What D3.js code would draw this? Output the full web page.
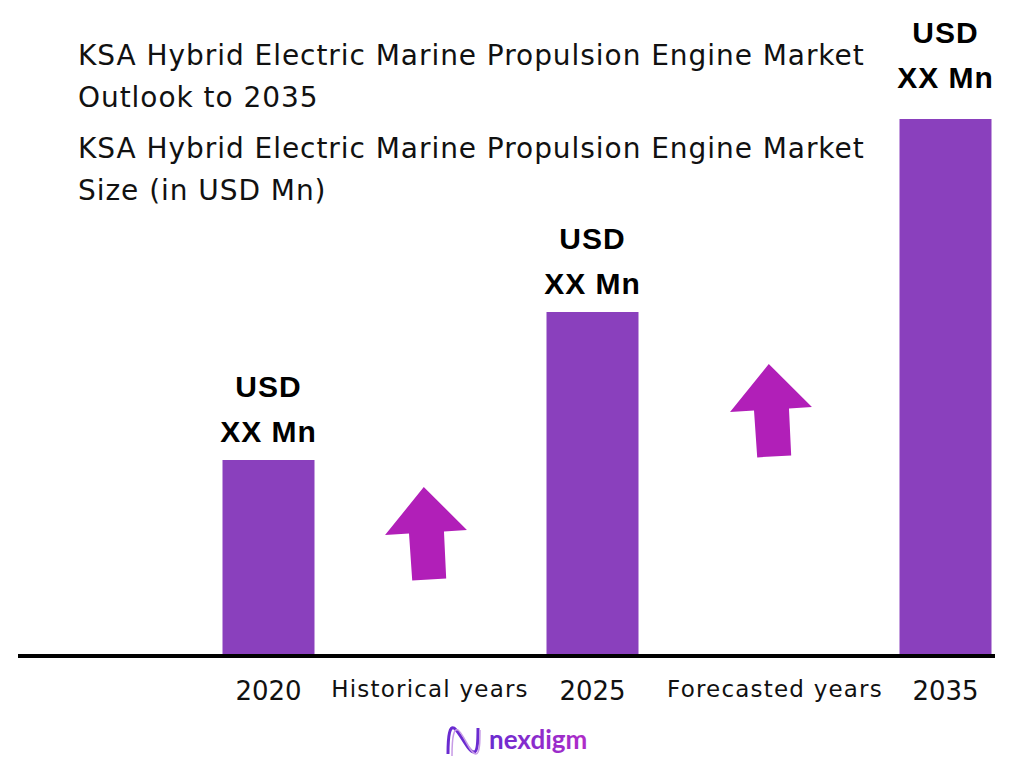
<!DOCTYPE html>
<html>
<head>
<meta charset="utf-8">
<script src="https://cdn.jsdelivr.net/npm/d3@7"></script>
<style>
  body { margin: 0; background: #fff; }
  svg { display: block; }
</style>
</head>
<body>
<script>
// data
const categories = ["2020", "Historical years", "2025", "Forecasted years", "2035"];
const years = ["2020", "2025", "2035"];
const barValues = [196, 344, 537];   // relative size
const barLabelTop = "USD";
const barLabelBottom = "XX Mn";
const gapLabels = ["Historical years", "Forecasted years"];
const titleLines = ["KSA Hybrid Electric Marine Propulsion Engine Market", "Outlook to 2035"];
const subtitleLines = ["KSA Hybrid Electric Marine Propulsion Engine Market", "Size (in USD Mn)"];

const WIDTH = 1024, HEIGHT = 768;
const barColor = "#8a40bd";
const arrowColor = "#b11fb8";

const svg = d3.select("body").append("svg")
  .attr("width", WIDTH).attr("height", HEIGHT);

// scales
const x = d3.scaleOrdinal()
  .domain(categories)
  .range([268.5, 430, 592.5, 775, 945.5]);
const y = d3.scaleLinear()
  .domain([0, d3.max(barValues)])
  .range([656, 119]);
const barW = 92;

// titles
svg.selectAll("text.title")
  .data(titleLines.concat(subtitleLines))
  .enter().append("text")
  .attr("class", "title")
  .attr("x", 78)
  .attr("y", (d, i) => [65, 107, 158, 200][i])
  .attr("font-family", "DejaVu Sans")
  .attr("font-size", 28)
  .attr("letter-spacing", 0.95)
  .attr("fill", "#111")
  .text(d => d);

// bars
svg.selectAll("rect.bar")
  .data(barValues)
  .enter().append("rect")
  .attr("class", "bar")
  .attr("x", (d, i) => x(years[i]) - barW / 2)
  .attr("y", d => y(d))
  .attr("width", barW)
  .attr("height", d => y(0) - y(d) + 2)
  .attr("fill", barColor);

// bar labels (the tallest one is pushed up to fit above its bar)
const lab = svg.selectAll("g.lab")
  .data(barValues)
  .enter().append("g")
  .attr("class", "lab")
  .attr("transform", (d, i) => {
    const by = y(d) - 18 - (y(d) < 150 ? 13 : 0);
    return `translate(${x(years[i])},${by})`;
  });
lab.append("text")
  .attr("y", -45)
  .attr("text-anchor", "middle")
  .attr("font-family", "Liberation Sans")
  .attr("font-weight", "bold")
  .attr("font-size", 30)
  .attr("letter-spacing", 1)
  .text(barLabelTop);
lab.append("text")
  .attr("y", 0)
  .attr("text-anchor", "middle")
  .attr("font-family", "Liberation Sans")
  .attr("font-weight", "bold")
  .attr("font-size", 30)
  .attr("letter-spacing", 1)
  .text(barLabelBottom);

// baseline
svg.append("line")
  .attr("x1", 18).attr("x2", 995)
  .attr("y1", y(0)).attr("y2", y(0))
  .attr("stroke", "#000")
  .attr("stroke-width", 4);

// axis labels
svg.selectAll("text.cat")
  .data(categories)
  .enter().append("text")
  .attr("class", "cat")
  .attr("x", d => x(d))
  .attr("y", (d, i) => i % 2 === 0 ? 700 : 697)
  .attr("text-anchor", "middle")
  .attr("font-family", "DejaVu Sans")
  .attr("font-size", (d, i) => i % 2 === 0 ? 26 : 23)
  .attr("letter-spacing", (d, i) => i % 2 === 0 ? 0 : 1.2)
  .attr("fill", "#111")
  .text(d => d);

// growth arrows between bars
const arrowShape = [[-1, -46], [-41, 1], [-17, 0], [-15, 47], [19, 46], [18, -1], [41, -2]];
const arrowY = [533, 410];
svg.selectAll("polygon.arrow")
  .data(gapLabels)
  .enter().append("polygon")
  .attr("class", "arrow")
  .attr("points", arrowShape.map(p => p.join(",")).join(" "))
  .attr("transform", (d, i) => `translate(${x(d) - 4},${arrowY[i]}) rotate(-1.5)`)
  .attr("fill", arrowColor);

// logo
const grad = svg.append("defs").append("linearGradient")
  .attr("id", "lg").attr("x1", "0").attr("x2", "1");
grad.append("stop").attr("offset", "0").attr("stop-color", "#6a2bd0");
grad.append("stop").attr("offset", "1").attr("stop-color", "#b02cc8");

const logo = svg.append("g").attr("transform", "translate(446,726)");
logo.append("path")
  .attr("d", "M2,28 C2,8 4,0 8,2 C14,6 22,26 28,26 C32,26 32,12 32,2")
  .attr("fill", "none").attr("stroke", "#6a2bd0").attr("stroke-width", 3);
logo.append("path")
  .attr("d", "M6,30 C6,10 8,2 12,4 C18,8 24,28 30,28 C34,28 34,14 34,4")
  .attr("fill", "none").attr("stroke", "#c79be6").attr("stroke-width", 1.5);
svg.append("text")
  .attr("x", 489).attr("y", 749)
  .attr("font-family", "Lato")
  .attr("font-weight", "bold")
  .attr("font-size", 26)
  .attr("fill", "url(#lg)")
  .text("nexdigm");
</script>
</body>
</html>
